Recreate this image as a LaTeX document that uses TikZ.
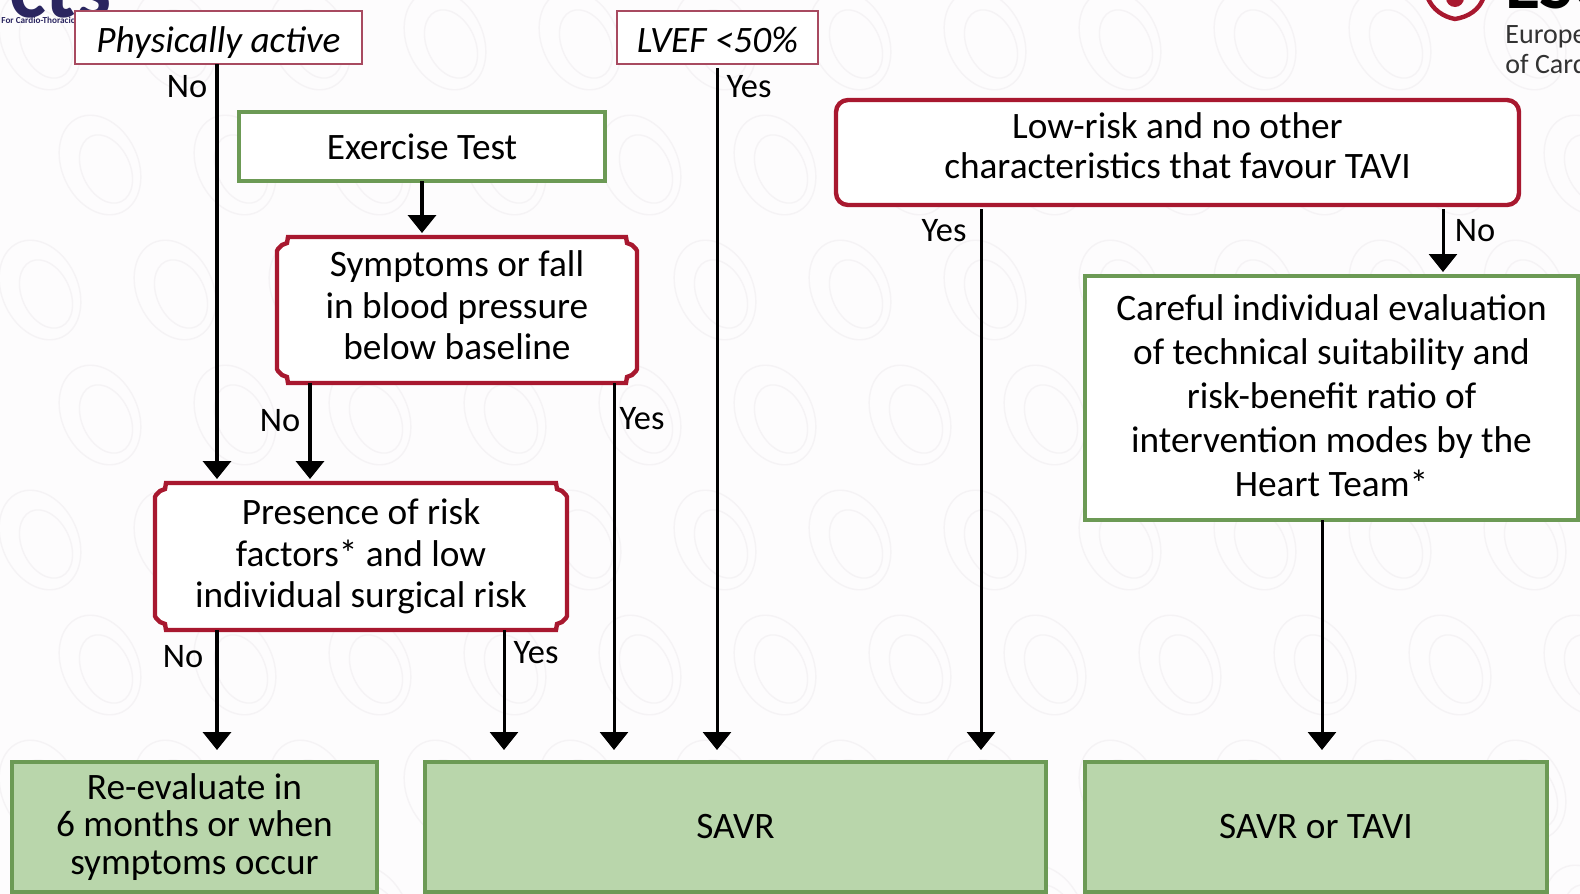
\documentclass[tikz,border=0pt]{standalone}
\usepackage{fontspec}
\setmainfont{Carlito}
\usetikzlibrary{arrows.meta}
\definecolor{crim}{HTML}{A8182F}
\definecolor{crimthin}{HTML}{A84A60}
\definecolor{grn}{HTML}{6C9A55}
\definecolor{grnfill}{HTML}{B9D6AB}
\definecolor{paper}{HTML}{FDFCFD}
\definecolor{swirl}{HTML}{F5F3F5}
\definecolor{navy}{HTML}{2A2560}
\tikzset{
  x=0.5pt,y=-0.5pt,
  boxtext/.style={align=center,font=\fontsize{18.65}{20.7}\selectfont,text=black,inner sep=0pt,outer sep=0pt},
  leading/.style={font=\fontsize{18.65}{#1}\selectfont},
  thinbox/.style={boxtext,draw=crimthin,line width=1pt,fill=white,font=\fontsize{18.65}{20.7}\selectfont\itshape,text height=17pt,text depth=2pt},
  greenbox/.style={boxtext,draw=grn,line width=2.2pt,fill=white},
  resultbox/.style={boxtext,draw=grn,line width=2.2pt,fill=grnfill},
  redplain/.style={boxtext},
  redround/.style={boxtext,draw=crim,line width=2.2pt,fill=white,rounded corners=6pt},
  plaqueline/.style={draw=crim,line width=2.2pt,fill=white,line join=miter},
  flow/.style={draw=black,line width=1.5pt,-{Triangle[length=9pt,width=14pt]}},
  flowthick/.style={flow,line width=1.8pt},
  gapped/.style={shorten <=2pt},
  lab/.style={font=\fontsize{17.2}{19}\selectfont,text=black,inner sep=0pt}
}
\newcommand{\boxnode}[7]{% style,name,x1,y1,x2,y2,text
  \node[#1,minimum width=#5*0.5pt-#3*0.5pt,minimum height=#6*0.5pt-#4*0.5pt] (#2) at ({(#3+#5)/2},{(#4+#6)/2}) {#7};}
\newcommand{\plaquebox}[6]{% name,x1,y1,x2,y2,text
  \path[plaqueline] ({#2+11},#3) -- ({#4-11},#3) -- ({#4-10},{#3+6}) -- ({#4-5},{#3+8}) -- ({#4-1},{#3+12})
    -- (#4,{#3+14}) -- (#4,{#5-14}) -- ({#4-1},{#5-12}) -- ({#4-5},{#5-8}) -- ({#4-10},{#5-6}) -- ({#4-11},#5)
    -- ({#2+11},#5) -- ({#2+10},{#5-6}) -- ({#2+5},{#5-8}) -- ({#2+1},{#5-12}) -- (#2,{#5-14})
    -- (#2,{#3+14}) -- ({#2+1},{#3+12}) -- ({#2+5},{#3+8}) -- ({#2+10},{#3+6}) -- cycle;
  \boxnode{redplain}{#1}{#2}{#3}{#4}{#5}{#6}}
\newcommand{\uptext}[2]{\begin{tabular}{@{}c@{}}#2\\[#1]\end{tabular}}
\begin{document}
\begin{tikzpicture}
\useasboundingbox (0,0) rectangle (1580,894);
\begin{scope}
\clip (0,0) rectangle (1580,894);
\fill[paper] (0,0) rectangle (1580,894);
\foreach \i in {0,...,12}{\foreach \j in {0,...,7}{
  \pgfmathsetmacro{\cx}{\i*135+40+mod(\j,2)*60}
  \pgfmathsetmacro{\cy}{\j*125+40}
  \draw[swirl,line width=0.7pt] (\cx,\cy) ellipse [x radius=38,y radius=52,rotate=25];
  \draw[swirl,line width=0.7pt] (\cx+6,\cy+4) ellipse [x radius=24,y radius=36,rotate=25];
}}
% logos
\node[font=\fontsize{44}{44}\selectfont\bfseries,text=navy,inner sep=0pt,anchor=east] (acts) at (112,-10) {cts};
\node[font=\fontsize{4.6}{5}\selectfont\bfseries,text=navy,inner sep=0pt,anchor=west] (actsline) at (1,20) {For Cardio-Thoracic};
\draw[crim,line width=2.2pt] (1427,-4) .. controls (1432,10) and (1444,17) .. (1455,19) .. controls (1468,17) and (1480,10) .. (1484,-4);
\fill[crim] (1455,-2) circle (9);
\node[font=\fontsize{14}{15.2}\selectfont,anchor=north west,align=left,inner sep=0pt,text=black!80] (esc) at (1505,25) {European\\of Cardiology};
\node[font=\fontsize{36}{36}\selectfont\bfseries,anchor=west,inner sep=0pt] (esctop) at (1505,-15) {ESC};

\boxnode{thinbox}{phys}{75}{11}{362}{64}{Physically active}
\boxnode{thinbox}{lvef}{617}{11}{818}{64}{LVEF <50\%}
\boxnode{greenbox}{ex}{239}{112}{605}{181}{Exercise Test}
\plaquebox{sym}{277}{237}{637}{383}{\uptext{0pt}{Symptoms or fall\\in blood pressure\\below baseline}}
\plaquebox{pres}{155}{483}{567}{630}{Presence of risk\\factors* and low\\individual surgical risk}
\boxnode{redround,leading=20}{low}{836}{100}{1519}{205}{\uptext{2pt}{Low-risk and no other\\characteristics that favour TAVI}}
\boxnode{greenbox,leading=22}{care}{1085}{276}{1578}{520}{\uptext{-1.5pt}{Careful individual evaluation\\of technical suitability and\\risk-benefit ratio of\\intervention modes by the\\Heart Team*}}
\boxnode{resultbox,leading=18.7}{re}{12}{762}{377}{892}{Re-evaluate in\\6 months or when\\symptoms occur}
\boxnode{resultbox}{savr}{425}{762}{1046}{892}{SAVR}
\boxnode{resultbox}{st}{1085}{762}{1547}{892}{SAVR or TAVI}

\foreach \n/\v in {a/217,b/310,c/422,d/504,e/614,f/717,g/981,h/1322,k/1443}{\coordinate (x\n) at (\v,0);}
\coordinate (resTop) at (0,750);
\coordinate (presTop) at (0,479);
\coordinate (careTop) at (0,272);
\draw[flowthick] (phys.south -| xa) -- (presTop -| xa);
\draw[flowthick] (ex.south -| xc) -- ([yshift=2pt]sym.north -| xc);
\draw[flowthick] (sym.south -| xb) -- (presTop -| xb);
\draw[flow] (sym.south -| xe) -- (resTop -| xe);
\draw[flow,gapped] (lvef.south -| xf) -- (resTop -| xf);
\draw[flow,gapped] (low.south -| xg) -- (resTop -| xg);
\draw[flow,gapped] (low.south -| xk) -- (careTop -| xk);
\draw[flow] (care.south -| xh) -- (resTop -| xh);
\draw[flowthick] (pres.south -| xa) -- (resTop -| xa);
\draw[flow] (pres.south -| xd) -- (resTop -| xd);

\node[lab] (l1) at (187,87) {No};
\node[lab] (l2) at (749,87) {Yes};
\node[lab] (l3) at (280,421) {No};
\node[lab] (l4) at (642,419) {Yes};
\node[lab] (l5) at (183,657) {No};
\node[lab] (l6) at (536,653) {Yes};
\node[lab] (l7) at (944,231) {Yes};
\node[lab] (l8) at (1475,231) {No};
\end{scope}
\end{tikzpicture}
\end{document}
